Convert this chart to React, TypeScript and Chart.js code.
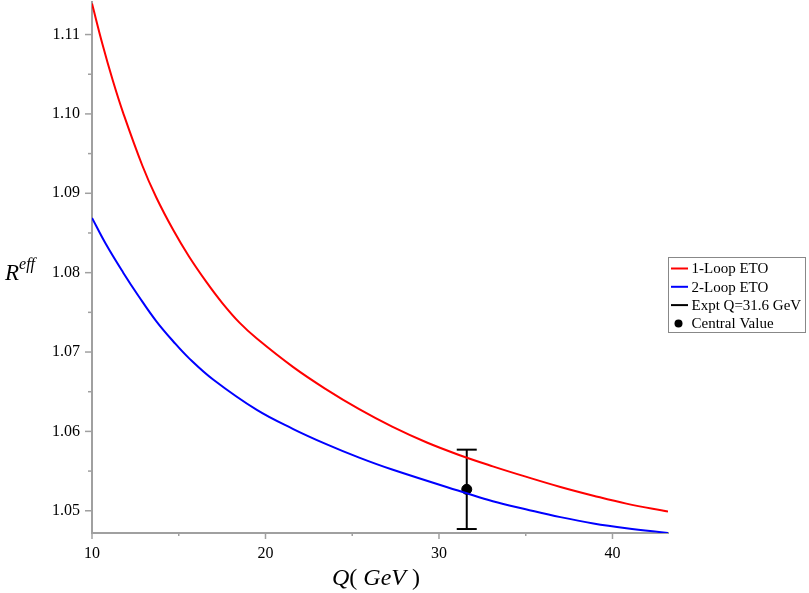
import React, { useEffect, useRef } from 'react';
import { Chart, registerables } from 'chart.js';

Chart.register(...registerables);

// ---- data ----
const Q_1LOOP = [10, 10.6, 11.2, 11.8, 12.9, 13.7, 14.7, 15.6, 16.6, 17.5, 18.5, 19.5, 21.6, 23.5, 25.4, 27.3, 29.3, 31.2, 33.1, 35.0, 37.0, 38.9, 40.8, 43.2];
const R_1LOOP = [1.1139, 1.1088, 1.1042, 1.1001, 1.0935, 1.0895, 1.0853, 1.082, 1.0788, 1.0762, 1.0737, 1.0717, 1.0681, 1.0653, 1.0628, 1.0606, 1.0586, 1.057, 1.0556, 1.0543, 1.053, 1.0519, 1.0509, 1.0499];

const Q_2LOOP = [10, 10.8, 11.8, 12.7, 13.7, 14.7, 15.6, 17.0, 19.5, 21.6, 23.5, 25.4, 27.3, 31.6, 33.1, 35.0, 37.0, 38.9, 40.8, 43.2];
const R_2LOOP = [1.0869, 1.0836, 1.08, 1.077, 1.0739, 1.0713, 1.0692, 1.0665, 1.0627, 1.0603, 1.0584, 1.0567, 1.0552, 1.0522, 1.0512, 1.0502, 1.0492, 1.0484, 1.0478, 1.0472];

const EXPT_Q = 31.6;
const EXPT_LOW = 1.0477;
const EXPT_HIGH = 1.0577;
const CENTRAL_VALUE = 1.0527;

const LABELS = ['1-Loop ETO', '2-Loop ETO', 'Expt Q=31.6 GeV', 'Central Value'];

const X_MIN = 10;
const X_MAX = 43.2;
const Y_MIN = 1.0472;
const Y_MAX = 1.1141;
const X_MAJOR_TICKS = [10, 20, 30, 40];
const X_MINOR_TICKS = [15, 25, 35];
const Y_MAJOR_TICKS = [1.05, 1.06, 1.07, 1.08, 1.09, 1.1, 1.11];
const Y_MINOR_TICKS = [1.055, 1.065, 1.075, 1.085, 1.095, 1.105];

const AXIS_COLOR = '#a0a0a0';
const SERIF = '"Liberation Serif", "DejaVu Serif", serif';

const tickMarksPlugin = {
  id: 'tickMarks',
  afterDraw(chart: any) {
    const ctx = chart.ctx;
    const { chartArea } = chart;
    const xs = chart.scales.x;
    const ys = chart.scales.y;
    ctx.save();
    ctx.strokeStyle = AXIS_COLOR;
    ctx.lineWidth = 1.5;
    xs.ticks.forEach((t: any) => {
      const px = xs.getPixelForValue(t.value);
      const len = X_MAJOR_TICKS.includes(t.value) ? 6 : 3;
      ctx.beginPath();
      ctx.moveTo(px, chartArea.bottom);
      ctx.lineTo(px, chartArea.bottom + len);
      ctx.stroke();
    });
    ys.ticks.forEach((t: any) => {
      const py = ys.getPixelForValue(t.value);
      const major = Y_MAJOR_TICKS.some((v) => Math.abs(v - t.value) < 1e-9);
      const len = major ? 7 : 4;
      ctx.beginPath();
      ctx.moveTo(chartArea.left, py);
      ctx.lineTo(chartArea.left - len, py);
      ctx.stroke();
    });
    ctx.restore();
  },
};

const titlesPlugin = {
  id: 'titles',
  afterDraw(chart: any) {
    const ctx = chart.ctx;
    const { chartArea } = chart;
    ctx.save();
    ctx.fillStyle = '#000';
    ctx.textBaseline = 'alphabetic';
    const parts: [string, boolean][] = [
      ['Q', true],
      ['(', false],
      [' GeV', true],
      [' )', false],
    ];
    const fontFor = (it: boolean) => `${it ? 'italic ' : ''}24px ${SERIF}`;
    let total = 0;
    parts.forEach(([s, it]) => {
      ctx.font = fontFor(it);
      total += ctx.measureText(s).width;
    });
    let x = (chartArea.left + chartArea.right) / 2 - total / 2 - 4;
    const yBase = 585;
    parts.forEach(([s, it]) => {
      ctx.font = fontFor(it);
      ctx.fillText(s, x, yBase);
      x += ctx.measureText(s).width;
    });
    ctx.font = `italic 23px ${SERIF}`;
    ctx.fillText('R', 5, 280);
    const rw = ctx.measureText('R').width;
    ctx.font = `italic 16px ${SERIF}`;
    ctx.fillText('eff', 5 + rw, 269);
    ctx.restore();
  },
};

const legendPlugin = {
  id: 'customLegend',
  afterDraw(chart: any) {
    const ctx = chart.ctx;
    const { chartArea } = chart;
    const left = chartArea.right + 0.5;
    const top = 257.5;
    const w = 137;
    const h = 75;
    ctx.save();
    ctx.fillStyle = '#fff';
    ctx.fillRect(left, top, w, h);
    ctx.strokeStyle = '#888';
    ctx.lineWidth = 1;
    ctx.strokeRect(left, top, w, h);
    ctx.font = `15px ${SERIF}`;
    ctx.textBaseline = 'middle';
    chart.data.datasets.forEach((ds: any, i: number) => {
      const cy = top + 11 + i * 18.3;
      if (ds.showLine === false) {
        ctx.fillStyle = ds.pointBackgroundColor;
        ctx.beginPath();
        ctx.arc(left + 10, cy, 4, 0, Math.PI * 2);
        ctx.fill();
      } else {
        ctx.strokeStyle = ds.borderColor;
        ctx.lineWidth = 2;
        ctx.beginPath();
        ctx.moveTo(left + 2.5, cy);
        ctx.lineTo(left + 19.5, cy);
        ctx.stroke();
      }
      ctx.fillStyle = '#000';
      ctx.fillText(ds.label, left + 23, cy + 1);
    });
    ctx.restore();
  },
};

export default function App() {
  const canvasRef = useRef<HTMLCanvasElement | null>(null);

  useEffect(() => {
    if (!canvasRef.current) return;
    const toPts = (xs: number[], ys: number[]) => xs.map((x, i) => ({ x, y: ys[i] }));
    const chart = new Chart(canvasRef.current, {
      type: 'line',
      data: {
        datasets: [
          {
            label: LABELS[0],
            data: toPts(Q_1LOOP, R_1LOOP),
            borderColor: '#ff0000',
            borderWidth: 2,
            pointRadius: 0,
            tension: 0.4,
            fill: false,
          },
          {
            label: LABELS[1],
            data: toPts(Q_2LOOP, R_2LOOP),
            borderColor: '#0000ff',
            borderWidth: 2,
            pointRadius: 0,
            tension: 0.4,
            fill: false,
          },
          {
            label: LABELS[2],
            data: [
              { x: EXPT_Q, y: EXPT_LOW },
              { x: EXPT_Q, y: EXPT_HIGH },
            ],
            borderColor: '#000',
            borderWidth: 2,
            pointStyle: 'line',
            pointRadius: 10,
            pointHoverRadius: 10,
            pointBorderWidth: 2,
            pointBorderColor: '#000',
            fill: false,
          },
          {
            label: LABELS[3],
            data: [{ x: EXPT_Q, y: CENTRAL_VALUE }],
            showLine: false,
            pointRadius: 5,
            pointBackgroundColor: '#000',
            pointBorderColor: '#000',
            borderColor: '#000',
          },
        ] as any,
      },
      options: {
        animation: false,
        responsive: true,
        maintainAspectRatio: false,
        layout: { autoPadding: false, padding: { top: 2, right: 141, left: 0, bottom: 0 } },
        plugins: {
          legend: { display: false },
          tooltip: { enabled: false },
        },
        scales: {
          x: {
            type: 'linear',
            min: X_MIN,
            max: X_MAX,
            afterBuildTicks: (scale: any) => {
              scale.ticks = [...X_MAJOR_TICKS, ...X_MINOR_TICKS]
                .sort((a, b) => a - b)
                .map((v) => ({ value: v }));
            },
            afterFit: (scale: any) => {
              scale.height = 60;
              scale.paddingLeft = 0;
              scale.paddingRight = 0;
            },
            ticks: {
              autoSkip: false,
              maxRotation: 0,
              padding: 11,
              color: '#000',
              font: { family: SERIF, size: 16 },
              callback: (v: any) => (X_MAJOR_TICKS.includes(Number(v)) ? String(v) : ''),
            },
            grid: { display: false, drawTicks: false },
            border: { display: true, color: AXIS_COLOR, width: 2 },
          },
          y: {
            type: 'linear',
            min: Y_MIN,
            max: Y_MAX,
            afterBuildTicks: (scale: any) => {
              scale.ticks = [...Y_MAJOR_TICKS, ...Y_MINOR_TICKS]
                .sort((a, b) => a - b)
                .map((v) => ({ value: v }));
            },
            afterFit: (scale: any) => {
              scale.width = 92;
              scale.paddingTop = 0;
              scale.paddingBottom = 0;
            },
            ticks: {
              autoSkip: false,
              padding: 12,
              color: '#000',
              font: { family: SERIF, size: 16 },
              callback: (v: any) =>
                Y_MAJOR_TICKS.some((m) => Math.abs(m - Number(v)) < 1e-9) ? Number(v).toFixed(2) : '',
            },
            grid: { display: false, drawTicks: false },
            border: { display: true, color: AXIS_COLOR, width: 2 },
          },
        },
      },
      plugins: [tickMarksPlugin, titlesPlugin, legendPlugin],
    } as any);
    return () => chart.destroy();
  }, []);

  return (
    <div style={{ position: 'fixed', left: 0, top: 0, width: 809, height: 593, background: '#fff' }}>
      <canvas ref={canvasRef} />
    </div>
  );
}
